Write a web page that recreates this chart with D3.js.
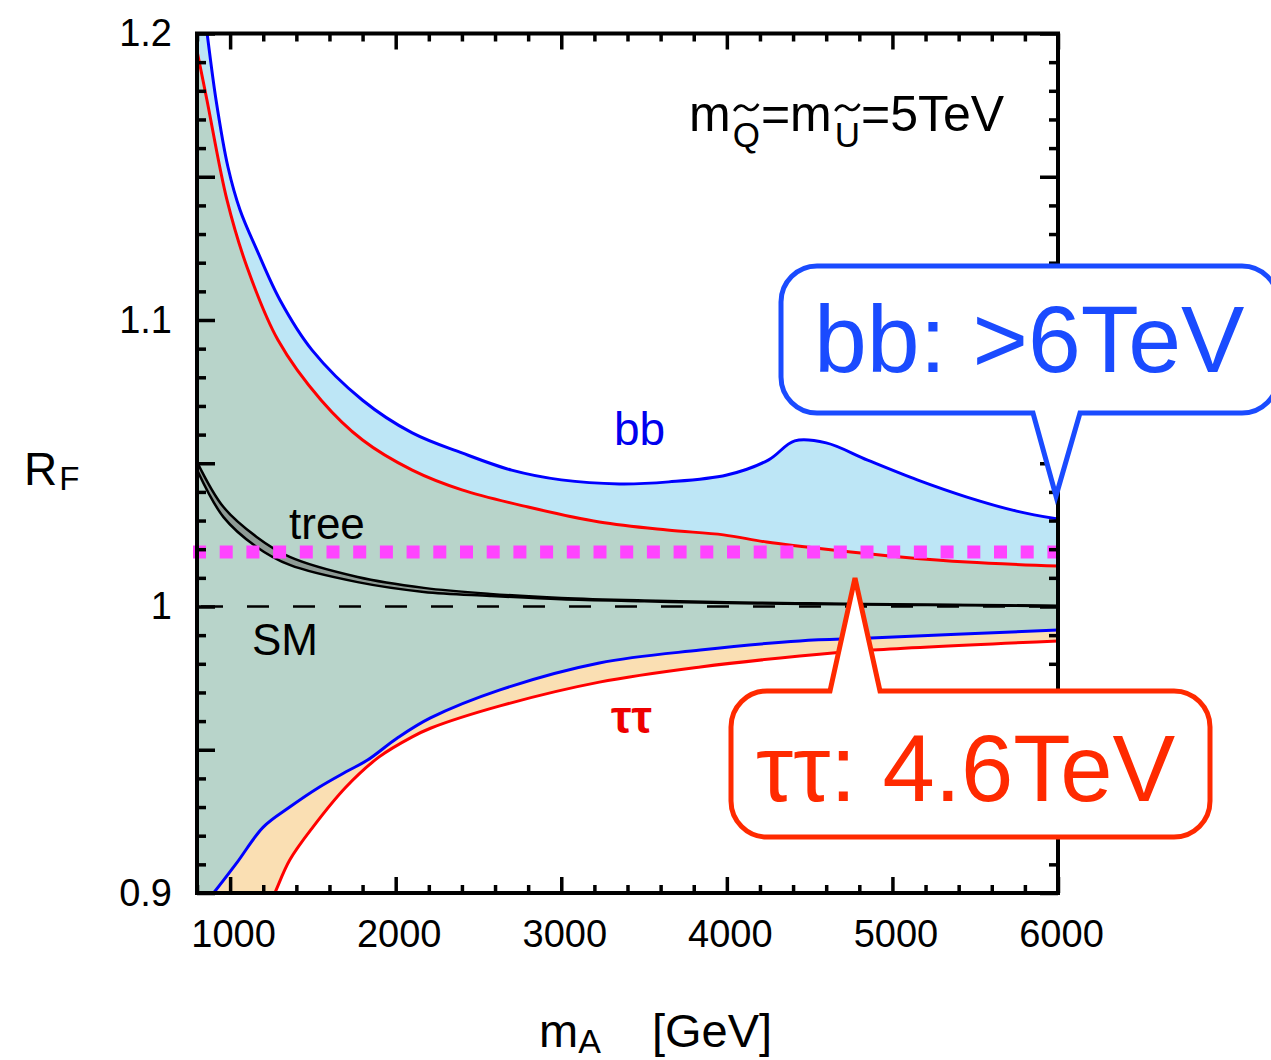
<!DOCTYPE html>
<html>
<head>
<meta charset="utf-8">
<script src="https://cdn.jsdelivr.net/npm/d3@7"></script>
<style>
  html, body { margin: 0; padding: 0; background: #fff; }
  svg { display: block; }
  text { font-family: "Liberation Sans", Arial, Helvetica, sans-serif; }
</style>
</head>
<body>
<svg id="chart" width="1271" height="1060"></svg>
<script>
// ---- data: R_F versus m_A (GeV) ----
// upper edge of the bb band
const bbUpperMA = [800, 860, 915, 987, 1060, 1162, 1301, 1495, 1800, 2100, 2400, 2700, 3000, 3350, 3650, 4000, 4250, 4410, 4600, 4850, 5150, 5450, 5750, 6000];
const bbUpperR  = [1.228, 1.2005, 1.1768, 1.1534, 1.1384, 1.1244, 1.1070, 1.0895, 1.0720, 1.0606, 1.0536, 1.0476, 1.0442, 1.0428, 1.0435, 1.0459, 1.0511, 1.0578, 1.0571, 1.0511, 1.0442, 1.0382, 1.0333, 1.0305];
// lower edge of the bb band
const bbLowerMA = [800, 900, 1040, 1200, 1360, 1540, 1700, 1830, 2010, 2210, 2630, 3230, 3840, 4440, 4870, 6000];
const bbLowerR  = [0.893, 0.900, 0.9105, 0.9230, 0.9300, 0.9370, 0.9423, 0.9464, 0.9541, 0.9611, 0.9709, 0.9803, 0.9848, 0.9880, 0.9890, 0.9918];
// upper edge of the tautau band
const ttUpperMA = [800, 860, 981, 1102, 1289, 1550, 1800, 2100, 2400, 2800, 3230, 3640, 3980, 4240, 4640, 5050, 5450, 6000];
const ttUpperR  = [1.194, 1.1768, 1.1419, 1.1185, 1.0930, 1.0720, 1.0581, 1.0476, 1.0407, 1.0347, 1.0295, 1.0267, 1.0250, 1.0225, 1.0197, 1.0173, 1.0155, 1.0141];
// lower edge of the tautau band
const ttLowerMA = [1200, 1270, 1360, 1500, 1700, 1900, 2100, 2210, 2630, 3230, 3840, 4440, 4880, 6000];
const ttLowerR  = [0.891, 0.900, 0.9115, 0.9230, 0.9370, 0.9475, 0.9545, 0.9575, 0.9653, 0.9736, 0.9789, 0.9827, 0.9848, 0.9880];
// tree-level band
const treeMA     = [800, 960, 1160, 1360, 1770, 2170, 2570, 3000, 3500, 4000, 4500, 5000, 5500, 6000];
const treeUpperR = [1.0505, 1.0347, 1.0243, 1.0173, 1.0103, 1.0065, 1.0044, 1.0030, 1.0021, 1.0015, 1.0011, 1.0008, 1.0005, 1.0003];
const treeLowerR = [1.0477, 1.0312, 1.0208, 1.0145, 1.0085, 1.0051, 1.0037, 1.0025, 1.0018, 1.0012, 1.0009, 1.0006, 1.0004, 1.0001];
// reference levels
const smLevel = 1.0;
const precisionLevel = 1.019;

// ---- axis ticks ----
const xTicks = [1000, 2000, 3000, 4000, 5000, 6000];
const xTickLabels = ["1000", "2000", "3000", "4000", "5000", "6000"];
const yTicks = [0.9, 1.0, 1.1, 1.2];
const yTickLabels = ["0.9", "1", "1.1", "1.2"];
const yMidTicks = [0.95, 1.05, 1.15];

const svg = d3.select("#chart");
const pL = 197, pR = 1058, pT = 33.5, pB = 893;

const x = d3.scaleLinear().domain([800, 6000]).range([pL, pR]);
const y = d3.scaleLinear().domain([0.9, 1.2]).range([pB, pT]);

const zip = (ms, rs) => ms.map((m, i) => ({ m, r: rs[i] }));
const bbU = zip(bbUpperMA, bbUpperR), bbL = zip(bbLowerMA, bbLowerR);
const ttU = zip(ttUpperMA, ttUpperR), ttL = zip(ttLowerMA, ttLowerR);
const tree = treeMA.map((m, i) => ({ m, u: treeUpperR[i], l: treeLowerR[i] }));

svg.append("defs").append("clipPath").attr("id", "plotClip")
  .append("rect").attr("x", pL).attr("y", pT).attr("width", pR - pL).attr("height", pB - pT);

const plot = svg.append("g").attr("clip-path", "url(#plotClip)");

const curve = d3.curveCatmullRom.alpha(0.5);
const below = d3.area().x(d => x(d.m)).y0(y(0.85)).y1(d => y(d.r)).curve(curve);
const line = d3.line().x(d => x(d.m)).y(d => y(d.r)).curve(curve);

// bands, painted from the top edge downwards
plot.append("path").datum(bbU).attr("d", below).attr("fill", "#bde6f6");
plot.append("path").datum(ttU).attr("d", below).attr("fill", "#b8d4ca");
plot.append("path").datum(bbL).attr("d", below).attr("fill", "#fadfb3");
plot.append("path").datum(ttL).attr("d", below).attr("fill", "#ffffff");

// SM reference line
plot.append("line")
  .attr("x1", pL + 4).attr("x2", pR).attr("y1", y(smLevel)).attr("y2", y(smLevel))
  .attr("stroke", "#000").attr("stroke-width", 2.5).attr("stroke-dasharray", "22,24");

// tree-level band
plot.append("path").datum(tree)
  .attr("d", d3.area().x(d => x(d.m)).y0(d => y(d.l)).y1(d => y(d.u)).curve(curve))
  .attr("fill", "#8e9b95");
plot.append("path").datum(tree)
  .attr("d", d3.line().x(d => x(d.m)).y(d => y(d.u)).curve(curve))
  .attr("fill", "none").attr("stroke", "#000").attr("stroke-width", 2.5);
plot.append("path").datum(tree)
  .attr("d", d3.line().x(d => x(d.m)).y(d => y(d.l)).curve(curve))
  .attr("fill", "none").attr("stroke", "#000").attr("stroke-width", 2.5);

// band edges
[[ttU, "#ff0000"], [ttL, "#ff0000"], [bbU, "#0000ff"], [bbL, "#0000ff"]].forEach(([d, c]) => {
  plot.append("path").datum(d).attr("d", line)
    .attr("fill", "none").attr("stroke", c).attr("stroke-width", 3);
});

// precision reach (dotted)
svg.append("line")
  .attr("x1", 193).attr("x2", pR).attr("y1", y(precisionLevel)).attr("y2", y(precisionLevel))
  .attr("stroke", "#ff44ff").attr("stroke-width", 13).attr("stroke-dasharray", "13,13.7");

// ---- frame and ticks ----
const axisStyle = g => {
  g.select(".domain").remove();
  g.selectAll(".tick line").attr("stroke", "#000").attr("stroke-width", 3.5);
  g.selectAll("text").attr("font-size", 38).attr("fill", "#000")
    .attr("font-family", '"Liberation Sans", Arial, sans-serif');
};
const xMinor = d3.range(800, 6001, 200).filter(v => v % 1000 !== 0);
const yMinor = d3.range(90, 121, 1).map(v => v / 100).filter(v => Math.round(v * 100) % 5 !== 0);
const yMajorAll = yTicks.concat(yMidTicks);

// bottom
svg.append("g").attr("transform", `translate(0,${pB})`)
  .call(d3.axisBottom(x).tickValues(xTicks).tickFormat((d, i) => xTickLabels[i]).tickSizeInner(-16).tickSizeOuter(0).tickPadding(27))
  .call(axisStyle)
  .call(g => g.selectAll("text").attr("dx", 3));
svg.append("g").attr("transform", `translate(0,${pB})`)
  .call(d3.axisBottom(x).tickValues(xMinor).tickFormat("").tickSizeInner(-8).tickSizeOuter(0)).call(axisStyle);
// top
svg.append("g").attr("transform", `translate(0,${pT})`)
  .call(d3.axisTop(x).tickValues(xTicks).tickFormat("").tickSizeInner(-16).tickSizeOuter(0)).call(axisStyle);
svg.append("g").attr("transform", `translate(0,${pT})`)
  .call(d3.axisTop(x).tickValues(xMinor).tickFormat("").tickSizeInner(-8).tickSizeOuter(0)).call(axisStyle);
// left
svg.append("g").attr("transform", `translate(${pL},0)`)
  .call(d3.axisLeft(y).tickValues(yTicks).tickFormat((d, i) => yTickLabels[i]).tickSizeInner(-18).tickSizeOuter(0).tickPadding(25))
  .call(axisStyle);
svg.append("g").attr("transform", `translate(${pL},0)`)
  .call(d3.axisLeft(y).tickValues(yMidTicks).tickFormat("").tickSizeInner(-18).tickSizeOuter(0)).call(axisStyle);
svg.append("g").attr("transform", `translate(${pL},0)`)
  .call(d3.axisLeft(y).tickValues(yMinor).tickFormat("").tickSizeInner(-9).tickSizeOuter(0)).call(axisStyle);
// right
svg.append("g").attr("transform", `translate(${pR},0)`)
  .call(d3.axisRight(y).tickValues(yMajorAll).tickFormat("").tickSizeInner(-18).tickSizeOuter(0)).call(axisStyle);
svg.append("g").attr("transform", `translate(${pR},0)`)
  .call(d3.axisRight(y).tickValues(yMinor).tickFormat("").tickSizeInner(-9).tickSizeOuter(0)).call(axisStyle);

svg.append("rect").attr("x", pL).attr("y", pT).attr("width", pR - pL).attr("height", pB - pT)
  .attr("fill", "none").attr("stroke", "#000").attr("stroke-width", 4);

// ---- axis titles ----
const yTitle = svg.append("text").attr("x", 24).attr("y", 485).attr("font-size", 46).attr("fill", "#000");
yTitle.append("tspan").text("R");
yTitle.append("tspan").attr("dy", 5).attr("dx", 2).attr("font-size", 33).text("F");

const xTitle = svg.append("text").attr("x", 539).attr("y", 1047).attr("font-size", 47).attr("fill", "#000");
xTitle.append("tspan").text("m");
xTitle.append("tspan").attr("dy", 6).attr("font-size", 34).text("A");
xTitle.append("tspan").attr("dy", -6).attr("x", 652).text("[GeV]");

// ---- in-plot labels ----
const massLabel = svg.append("text").attr("x", 689).attr("y", 131).attr("font-size", 50).attr("fill", "#000");
massLabel.append("tspan").text("m");
massLabel.append("tspan").attr("dy", 16).attr("dx", 2).attr("font-size", 35).text("Q");
massLabel.append("tspan").attr("dy", -16).attr("dx", 1).text("=m");
massLabel.append("tspan").attr("dy", 16).attr("dx", 3).attr("font-size", 35).text("U");
massLabel.append("tspan").attr("dy", -16).attr("dx", 1).text("=5TeV");
// tildes over the squark subscripts
const ml = massLabel.node();
[1, 4].forEach(i => {
  const s = ml.getStartPositionOfChar(i).x, e = ml.getEndPositionOfChar(i).x;
  const cx = (s + e) / 2, cy = 108;
  svg.append("path")
    .attr("d", `M${cx - 12},${cy + 3} C${cx - 8},${cy - 4} ${cx - 3},${cy - 3} ${cx},${cy} S${cx + 8},${cy + 3} ${cx + 12},${cy - 4}`)
    .attr("fill", "none").attr("stroke", "#000").attr("stroke-width", 2.8);
});

svg.append("text").attr("x", 614).attr("y", 445).attr("font-size", 46).attr("fill", "#0000ee").text("bb");
svg.append("text").attr("x", 289).attr("y", 539).attr("font-size", 44).attr("fill", "#000").text("tree");
svg.append("text").attr("x", 252).attr("y", 655).attr("font-size", 44).attr("fill", "#000").text("SM");
svg.append("text").attr("x", 611).attr("y", 733).attr("font-size", 46).attr("fill", "#ee0000")
  .attr("font-family", '"Liberation Serif", "DejaVu Serif", serif').attr("font-weight", "bold").text("ττ");

// ---- callouts ----
function callout(l, t, r, b, rad, tip, onTop, color) {
  const p = d3.path();
  p.moveTo(l + rad, t);
  if (onTop) { p.lineTo(tip.a, t); p.lineTo(tip.x, tip.y); p.lineTo(tip.b, t); }
  p.lineTo(r - rad, t);
  p.arcTo(r, t, r, t + rad, rad);
  p.lineTo(r, b - rad);
  p.arcTo(r, b, r - rad, b, rad);
  if (!onTop) { p.lineTo(tip.b, b); p.lineTo(tip.x, tip.y); p.lineTo(tip.a, b); }
  p.lineTo(l + rad, b);
  p.arcTo(l, b, l, b - rad, rad);
  p.lineTo(l, t + rad);
  p.arcTo(l, t, l + rad, t, rad);
  p.closePath();
  svg.append("path").attr("d", p.toString())
    .attr("fill", "#fff").attr("stroke", color).attr("stroke-width", 5).attr("stroke-linejoin", "miter");
}
callout(781, 266, 1278, 413, 36, { a: 1033, b: 1080, x: 1056, y: 496 }, false, "#1a4bff");
svg.append("text").attr("x", 814).attr("y", 372).attr("font-size", 95).attr("fill", "#1a4bff").text("bb: >6TeV");

callout(731, 691, 1210, 837, 36, { a: 830, b: 880, x: 855, y: 578 }, true, "#ff2a00");
svg.append("text").attr("x", 756).attr("y", 801).attr("font-size", 94).attr("fill", "#ff2a00").text("ττ: 4.6TeV");
</script>
</body>
</html>
